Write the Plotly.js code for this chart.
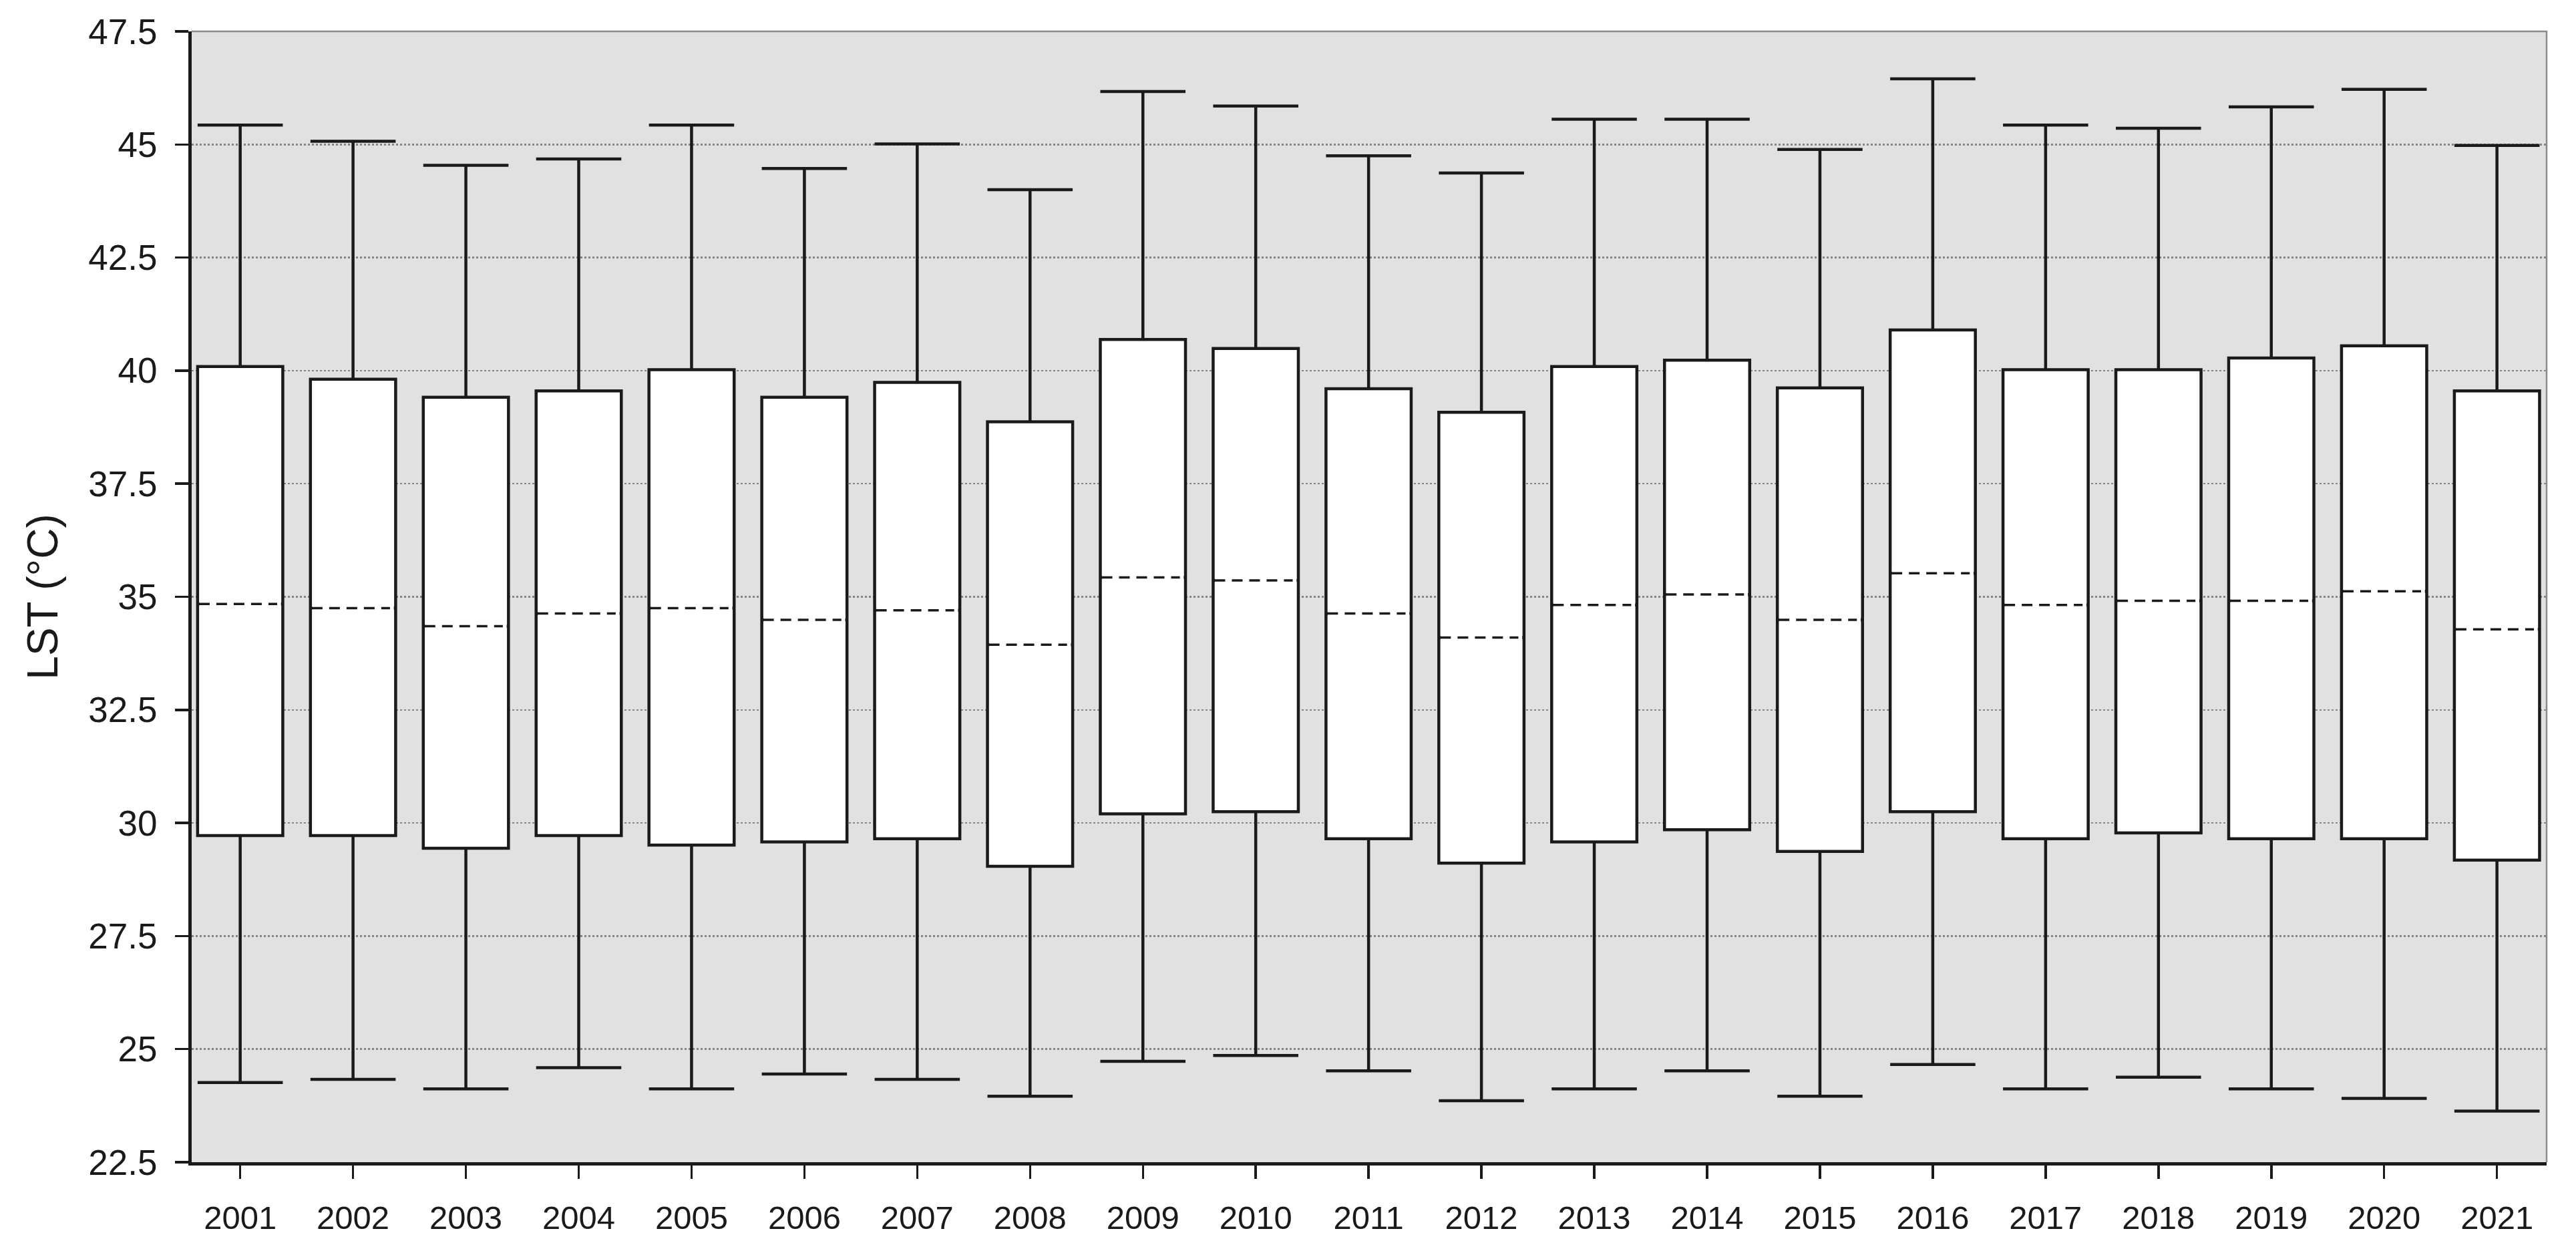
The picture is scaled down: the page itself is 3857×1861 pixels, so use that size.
<!DOCTYPE html>
<html>
<head>
<meta charset="utf-8">
<script src="https://cdn.plot.ly/plotly-3.0.1.min.js"></script>
<style>body{margin:0;background:#fff}</style>
</head>
<body>
<div id="lstBoxChart" style="width:3857px;height:1861px"></div>
<script>
// LST box plots per year
var years = ['2001', '2002', '2003', '2004', '2005', '2006', '2007', '2008', '2009', '2010', '2011',
             '2012', '2013', '2014', '2015', '2016', '2017', '2018', '2019', '2020', '2021'];
var upperWhisker = [45.43, 45.07, 44.54, 44.68, 45.43, 44.47, 45.01, 44.00, 46.17, 45.85, 44.75,
                    44.37, 45.56, 45.56, 44.89, 46.45, 45.43, 45.36, 45.83, 46.22, 44.98];
var q3 = [40.09, 39.81, 39.41, 39.55, 40.02, 39.41, 39.74, 38.87, 40.69, 40.49, 39.60,
          39.08, 40.09, 40.23, 39.62, 40.90, 40.02, 40.02, 40.28, 40.55, 39.55];
var median = [34.84, 34.75, 34.35, 34.63, 34.75, 34.49, 34.70, 33.94, 35.43, 35.36, 34.63,
              34.10, 34.82, 35.05, 34.49, 35.52, 34.82, 34.91, 34.91, 35.12, 34.28];
var q1 = [29.72, 29.72, 29.44, 29.72, 29.51, 29.58, 29.65, 29.04, 30.20, 30.25, 29.65,
          29.11, 29.58, 29.85, 29.37, 30.25, 29.65, 29.78, 29.65, 29.65, 29.18];
var lowerWhisker = [24.26, 24.33, 24.12, 24.59, 24.12, 24.45, 24.33, 23.96, 24.73, 24.86, 24.52,
                    23.86, 24.12, 24.52, 23.96, 24.66, 24.12, 24.38, 24.12, 23.91, 23.63];

var pos = years.map(function (y, i) { return i; });
var boxWidth = 0.755;
var ink = '#1a1a1a';
var fontFamily = '"Liberation Sans", Arial, sans-serif';

// median drawn as a dashed line over a white strip that hides the box's solid one
var medX = [], medY = [], dashX = [], dashY = [];
pos.forEach(function (p, i) {
    var hw = boxWidth / 2;
    medX.push(p - hw + 0.016, p + hw - 0.016, null);
    medY.push(median[i], median[i], null);
    dashX.push(p - hw + 0.012, p + hw - 0.05, null);
    dashY.push(median[i], median[i], null);
});

var data = [
    {
        type: 'box',
        x: pos,
        q1: q1,
        median: median,
        q3: q3,
        lowerfence: lowerWhisker,
        upperfence: upperWhisker,
        width: boxWidth,
        whiskerwidth: 1,
        fillcolor: '#ffffff',
        line: {color: ink, width: 4.5},
        showlegend: false,
        hoverinfo: 'y'
    },
    {
        type: 'scatter', mode: 'lines',
        x: medX, y: medY,
        line: {color: '#ffffff', width: 7},
        showlegend: false, hoverinfo: 'skip'
    },
    {
        type: 'scatter', mode: 'lines',
        x: dashX, y: dashY,
        line: {color: ink, width: 3.5, dash: '16px,10px'},
        showlegend: false, hoverinfo: 'skip'
    }
];

var layout = {
    width: 3857,
    height: 1861,
    margin: {l: 287, r: 44, t: 47, b: 121},
    paper_bgcolor: '#ffffff',
    plot_bgcolor: '#e1e1e1',
    font: {family: fontFamily, color: ink},
    showlegend: false,
    xaxis: {
        range: [-0.43, 20.44],
        tickmode: 'array',
        tickvals: pos,
        ticktext: years,
        tickfont: {size: 49},
        ticks: 'outside', ticklen: 20, tickwidth: 3.5, tickcolor: ink,
        ticklabelstandoff: 16,
        showgrid: false, zeroline: false,
        showline: true, linecolor: ink, linewidth: 5
    },
    yaxis: {
        range: [22.5, 47.5],
        tick0: 22.5, dtick: 2.5,
        tickfont: {size: 53},
        ticks: 'outside', ticklen: 20, tickwidth: 3.5, tickcolor: ink,
        ticklabelstandoff: 16,
        showgrid: true, gridcolor: '#858585', gridwidth: 2.5, griddash: 'dot',
        zeroline: false,
        showline: true, linecolor: ink, linewidth: 5,
        title: {text: 'LST (°C)', font: {size: 64}, standoff: 26}
    },
    shapes: [
        {
            type: 'path', xref: 'paper', yref: 'paper',
            path: 'M0,1 L1,1 L1,0',
            line: {color: '#8c8c8c', width: 2.5},
            layer: 'above'
        }
    ]
};

Plotly.newPlot('lstBoxChart', data, layout, {displayModeBar: false, staticPlot: true});
</script>
</body>
</html>
